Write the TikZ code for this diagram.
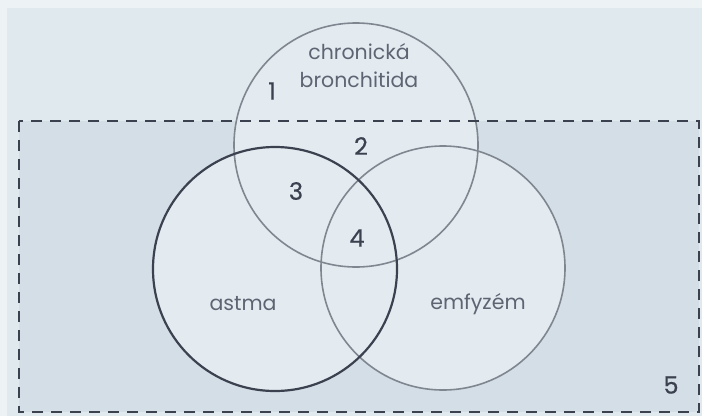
\documentclass[tikz,border=0pt]{standalone}
\usepackage{fontspec}
\setmainfont{Poppins}
\newfontfamily\cifras[FakeBold=0.5]{Poppins}
\usepackage{xcolor}
\usetikzlibrary{positioning}
\definecolor{cborde}{HTML}{EDF2F5}
\definecolor{cfondo}{HTML}{E0E9EE}
\definecolor{cmarco}{HTML}{D3DEE6}
\definecolor{cclaro}{HTML}{E3EBF0}
\definecolor{cgris}{HTML}{80868F}
\definecolor{coscuro}{HTML}{3C4150}
\definecolor{ctexto}{HTML}{5E6472}
\tikzset{
  conjunto/.style={circle, fill=cclaro, minimum size=244pt, inner sep=0pt, outer sep=0pt},
  contorno/.style={draw=#1, line width=1.6pt},
  etiqueta/.style={text=ctexto, font=\fontsize{20.5}{28}\selectfont, align=center, inner sep=0pt},
  zona/.style={text=coscuro, font=\cifras\fontsize{24}{26}\selectfont, inner sep=0pt},
  marco/.style={draw=coscuro, dash pattern=on 11pt off 8pt, line width=2.2pt},
}
\begin{document}
\begin{tikzpicture}[x=1pt, y=-1pt]
  \useasboundingbox (0,0) rectangle (702,416);
  \fill[cborde] (0,0) rectangle (702,416);
  \fill[cfondo] (7,8) rectangle (702,416);
  \fill[cmarco] (19,121) rectangle (699,412);
  % conjuntos
  \node[conjunto] (bronq) at (356,145) {};
  \node[conjunto] (emfi) at (443,268) {};
  \node[conjunto] (asma) at (275,269) {};
  \draw[contorno=cgris] (bronq.center) circle (122pt);
  \draw[contorno=cgris] (emfi.center) circle (122pt);
  \draw[contorno=coscuro, line width=2.2pt] (asma.center) circle (122pt);
  \draw[marco] (19,121) rectangle (699,412);
  % textos
  \node[etiqueta] (tbronq) at (359,66) {chronická\\bronchitida};
  \node[etiqueta] (tasma) at (243,304) {astma};
  \node[etiqueta] (temfi) at (478,304) {emfyzém};
  \node[zona] (z1) at (272,91) {1};
  \node[zona] (z2) at (361,146) {2};
  \node[zona] (z3) at (296,191) {3};
  \node[zona] (z4) at (357,238) {4};
  \node[zona] (z5) at (671,385) {5};
\end{tikzpicture}
\end{document}
